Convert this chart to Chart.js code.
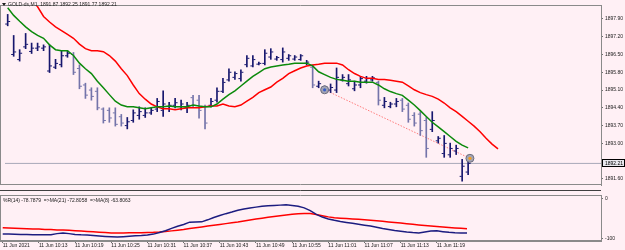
<!DOCTYPE html>
<html><head><meta charset="utf-8">
<script src="https://cdn.jsdelivr.net/npm/chart.js@4"></script>
<style>
html,body{margin:0;padding:0;background:#fff0f5;width:625px;height:250px;overflow:hidden;}
#main{position:absolute;left:0;top:0;}
#ind{position:absolute;left:0;top:190px;}
</style></head><body>
<canvas id="main" width="625" height="190"></canvas>
<canvas id="ind" width="625" height="60"></canvas>
<script>
// ---------- data ----------
const symbol = 'GOLD-ds,M1';
const opens = [1897.70,1896.50,1896.30,1896.80,1896.62,1896.75,1896.75,1895.85,1896.00,1896.10,
1896.45,1896.50,1895.95,1895.30,1895.10,1895.05,1894.35,1894.30,1894.20,1894.05,
1893.70,1893.90,1894.10,1894.10,1894.20,1894.35,1894.30,1894.45,1894.50,1894.45,
1894.40,1894.80,1894.70,1894.45,1894.50,1894.70,1895.05,1895.50,1895.60,1895.55,
1896.10,1896.05,1896.12,1896.15,1896.40,1896.32,1896.30,1896.35,1896.32,1896.30,
1896.15,1896.00,1895.25,1895.05,1895.10,1895.10,1895.50,1895.35,1895.15,1895.30,
1895.45,1895.50,1895.40,1894.50,1894.45,1894.55,1894.70,1894.50,1894.10,1894.15,
1893.90,1893.55,1893.10,1892.60,1892.55,1892.70,1891.70,1891.87];
const highs = [1898.08,1897.25,1896.69,1897.33,1896.95,1896.95,1896.88,1896.88,1896.31,1896.65,
1896.65,1896.58,1896.09,1895.37,1895.19,1895.19,1894.40,1894.40,1894.40,1894.14,
1894.02,1894.32,1894.44,1894.40,1894.40,1894.77,1895.07,1894.62,1894.77,1894.70,
1894.62,1894.89,1894.89,1894.51,1894.77,1895.19,1895.56,1895.94,1895.82,1895.90,
1896.46,1896.46,1896.20,1896.69,1896.73,1896.43,1896.76,1896.50,1896.46,1896.50,
1896.27,1896.09,1895.45,1895.26,1895.34,1895.97,1895.71,1895.71,1895.45,1895.64,
1895.64,1895.64,1895.45,1894.81,1894.62,1894.77,1894.77,1894.59,1894.21,1894.25,
1894.02,1894.25,1893.27,1893.31,1893.01,1892.93,1892.37,1892.25];
const lows = [1897.63,1896.43,1896.24,1896.73,1896.54,1896.65,1896.65,1895.79,1895.94,1896.01,
1896.39,1895.71,1895.15,1894.77,1894.70,1894.32,1893.80,1893.83,1893.68,1893.68,
1893.57,1893.83,1893.95,1894.02,1894.14,1894.25,1894.06,1894.25,1894.40,1894.32,
1894.21,1894.44,1893.99,1893.57,1894.44,1894.62,1895.00,1895.45,1895.52,1895.45,
1896.01,1896.01,1896.09,1896.09,1896.31,1896.27,1896.20,1896.27,1896.27,1896.27,
1896.09,1895.19,1895.19,1895.00,1895.00,1895.00,1895.45,1895.26,1895.07,1895.19,
1895.37,1895.45,1894.51,1894.40,1894.40,1894.44,1894.25,1893.83,1893.68,1893.31,
1892.45,1893.46,1893.01,1892.45,1892.45,1892.56,1891.51,1891.77];
const closes = [1897.80,1896.60,1896.55,1896.90,1896.75,1896.80,1896.80,1896.05,1896.15,1896.45,
1896.55,1895.80,1895.25,1894.90,1894.85,1894.40,1893.90,1894.00,1893.75,1893.80,
1893.85,1894.20,1894.25,1894.20,1894.30,1894.65,1894.55,1894.50,1894.60,1894.55,
1894.50,1894.50,1894.30,1893.80,1894.65,1895.05,1895.40,1895.80,1895.75,1895.80,
1896.35,1896.30,1896.15,1896.55,1896.60,1896.38,1896.60,1896.45,1896.40,1896.45,
1896.20,1895.30,1895.35,1895.15,1895.20,1895.60,1895.60,1895.50,1895.30,1895.55,
1895.55,1895.58,1894.70,1894.65,1894.55,1894.65,1894.35,1893.95,1893.80,1893.50,
1892.80,1893.90,1893.20,1893.00,1892.80,1892.80,1892.10,1892.21];
// fast MA (green)
const maFast = [1898.34,1898.04,1897.81,1897.59,1897.40,1897.25,1897.14,1896.88,1896.69,1896.65,
1896.65,1896.46,1896.16,1895.94,1895.75,1895.45,1895.19,1894.92,1894.66,1894.51,
1894.44,1894.44,1894.40,1894.36,1894.40,1894.44,1894.44,1894.47,1894.44,1894.44,
1894.44,1894.51,1894.47,1894.44,1894.44,1894.55,1894.74,1894.92,1895.07,1895.26,
1895.45,1895.64,1895.79,1895.94,1896.01,1896.05,1896.09,1896.12,1896.16,1896.16,
1896.16,1896.05,1895.82,1895.71,1895.60,1895.52,1895.49,1895.45,1895.45,1895.41,
1895.41,1895.41,1895.30,1895.15,1895.04,1894.96,1894.89,1894.70,1894.51,1894.29,
1894.06,1893.83,1893.65,1893.46,1893.27,1893.08,1892.93,1892.82];
// slow MA (red), shifted 5 bars forward
const maSlow = [1899.73,1899.47,1899.20,1898.94,1898.68,1898.38,1898.00,1897.78,1897.59,1897.44,
1897.29,1897.14,1896.91,1896.73,1896.65,1896.65,1896.61,1896.46,1896.24,1895.94,
1895.67,1895.30,1894.96,1894.74,1894.55,1894.44,1894.36,1894.36,1894.32,1894.36,
1894.40,1894.40,1894.40,1894.44,1894.47,1894.47,1894.55,1894.47,1894.44,1894.51,
1894.66,1894.81,1895.00,1895.11,1895.22,1895.41,1895.56,1895.75,1895.86,1895.97,
1896.05,1896.09,1896.12,1896.16,1896.16,1896.16,1896.09,1895.90,1895.75,1895.64,
1895.56,1895.56,1895.52,1895.52,1895.49,1895.45,1895.41,1895.26,1895.11,1895.00,
1894.92,1894.85,1894.74,1894.59,1894.40,1894.25,1894.06,1893.87,1893.68,1893.46,
1893.20,1892.97,1892.78];
// indicator lines
const wprBlue = [-88.4,-88.9,-89.4,-89.6,-90.1,-90.3,-90.5,-90.7,-90.5,-87.7,
-86.1,-87.7,-89.6,-90.7,-91.4,-92.4,-93.5,-94.7,-95.6,-96.3,
-95.4,-94.2,-93.1,-92.4,-91.2,-88.9,-85.0,-80.4,-74.6,-69.3,
-64.7,-58.9,-58.4,-58.2,-53.1,-47.3,-42.3,-37.6,-33.5,-28.9,
-25.9,-23.6,-21.2,-18.9,-17.8,-16.9,-16.2,-15.5,-16.9,-19.2,
-23.1,-30.0,-39.3,-46.2,-50.8,-54.3,-57.3,-59.6,-61.9,-64.2,
-66.5,-68.8,-71.6,-75.0,-77.4,-79.7,-81.5,-83.6,-85.0,-85.9,
-83.6,-81.3,-80.8,-82.7,-84.5,-85.4,-85.9,-86.1];
const wprRed = [-73.2,-73.7,-74.3,-74.8,-75.5,-76.0,-76.4,-77.1,-77.6,-78.3,
-78.7,-79.4,-80.4,-81.3,-82.2,-83.1,-84.0,-85.0,-85.9,-86.1,
-85.9,-85.7,-85.4,-85.2,-85.0,-84.5,-83.6,-82.2,-80.8,-79.2,
-77.4,-75.0,-73.0,-70.9,-68.8,-66.7,-64.7,-62.6,-60.5,-58.4,
-55.9,-53.6,-51.3,-49.0,-46.6,-44.6,-42.7,-40.9,-39.3,-37.6,
-36.9,-37.4,-39.7,-42.7,-45.7,-48.1,-49.0,-50.0,-50.9,-51.9,
-53.1,-54.0,-55.4,-56.8,-58.4,-59.8,-61.2,-62.8,-64.2,-65.8,
-67.2,-68.6,-70.0,-71.1,-72.3,-73.4,-74.3,-75.5];
const indicatorLabel = '%R(14) -78.7879  =>MA(21) -72.8058  =>MA(8) -63.8063';
const trendLine = [[53, 1895.11], [77.3, 1892.41]];
const bidPrice = 1892.21;
const priceTicks = [1897.90, 1897.20, 1896.50, 1895.80, 1895.10, 1894.40, 1893.70, 1893.00, 1891.60];
const indTicks = [0, -100];
const timeIdx = [0, 6, 12, 18, 24, 30, 36, 42, 48, 54, 60, 66, 72];
const timeLabels = ['11 Jun 2021','11 Jun 10:13','11 Jun 10:19','11 Jun 10:25','11 Jun 10:31','11 Jun 10:37',
'11 Jun 10:43','11 Jun 10:49','11 Jun 10:55','11 Jun 11:01','11 Jun 11:07','11 Jun 11:13','11 Jun 11:19'];

// ---------- styling ----------
const X_MIN = -0.45, X_MAX = 99.22;
const Y_MIN = 1891.36, Y_MAX = 1898.45;
const UP = '#17176e', DOWN = '#7474aa';
const FONT = "'Liberation Sans', Arial, sans-serif";
Chart.defaults.font.family = FONT;
Chart.defaults.font.size = 5;
Chart.defaults.color = '#000';

const barColor = closes.map((c, i) => c >= opens[i] ? UP : DOWN);
const xy = (arr) => arr.map((v, i) => ({x: i, y: v}));

const frame = {
  id: 'frame',
  afterDraw(chart, args, opts) {
    const a = chart.chartArea, ctx = chart.ctx;
    ctx.save();
    ctx.strokeStyle = opts.color || '#8a8a8a';
    ctx.lineWidth = 1;
    ctx.beginPath();
    ctx.moveTo(0.5, a.top); ctx.lineTo(0.5, a.bottom);
    ctx.moveTo(0, a.top + 0.5); ctx.lineTo(a.right, a.top + 0.5);
    ctx.moveTo(0, a.bottom - 0.5); ctx.lineTo(a.right, a.bottom - 0.5);
    ctx.stroke();
    ctx.restore();
  }
};

const mainLabels = {
  id: 'mainLabels',
  afterDraw(chart) {
    const ctx = chart.ctx, ys = chart.scales.y, a = chart.chartArea;
    ctx.save();
    // title
    ctx.fillStyle = '#202020';
    ctx.beginPath(); ctx.moveTo(2, 3); ctx.lineTo(6, 3); ctx.lineTo(4, 6); ctx.closePath(); ctx.fill();
    ctx.font = '5px ' + FONT;
    ctx.textBaseline = 'middle';
    const n = closes.length - 1;
    ctx.fillText(symbol + '  ' + opens[n].toFixed(2) + ' ' + highs[n].toFixed(2) + ' ' + lows[n].toFixed(2) + ' ' + closes[n].toFixed(2), 8, 5);
    // bid label on axis
    const y = Math.round(ys.getPixelForValue(bidPrice));
    ctx.fillStyle = '#e8e8ee';
    ctx.fillRect(a.right + 1, y - 4, 23, 8);
    ctx.strokeStyle = '#000';
    ctx.strokeRect(a.right + 1.5, y - 3.5, 22, 7);
    ctx.fillStyle = '#000';
    ctx.fillText(bidPrice.toFixed(2), a.right + 4, y + 0.5);
    ctx.restore();
  }
};

new Chart(document.getElementById('main'), {
  type: 'line',
  data: {
    datasets: [
      { type: 'line', data: trendLine.map(p => ({x: p[0], y: p[1]})), showLine: false,
        pointRadius: 1.6, pointBorderWidth: 0, pointBackgroundColor: ['#3a5fc8', '#f2a020'], order: 0 },
      { type: 'line', data: trendLine.map(p => ({x: p[0], y: p[1]})), showLine: false,
        pointRadius: 4, pointBorderWidth: 1, pointBackgroundColor: '#a4a4b4', pointBorderColor: '#6c6c7c', order: 1 },
      { type: 'line', data: xy(maFast), borderColor: '#0c8a0c', borderWidth: 1.5, pointRadius: 0, tension: 0, order: 2 },
      { type: 'line', data: xy(maSlow), borderColor: '#ff0000', borderWidth: 1.5, pointRadius: 0, tension: 0, order: 3 },
      { type: 'line', data: xy(opens).map(p => ({x: p.x - 0.25, y: p.y})), showLine: false, pointStyle: 'line',
        pointRadius: 1, pointBorderWidth: 1, pointBorderColor: barColor, order: 4 },
      { type: 'line', data: xy(closes).map(p => ({x: p.x + 0.25, y: p.y})), showLine: false, pointStyle: 'line',
        pointRadius: 1, pointBorderWidth: 1, pointBorderColor: barColor, order: 4 },
      { type: 'bar', data: highs.map((h, i) => ({x: i, y: [lows[i], h]})), backgroundColor: barColor,
        barThickness: 1, borderWidth: 0, grouped: false, order: 5 },
      { type: 'line', data: trendLine.map(p => ({x: p[0], y: p[1]})), borderColor: '#ff7c7c', borderWidth: 1,
        borderDash: [1.5, 1.5], pointRadius: 0, order: 6 },
      { type: 'line', data: [{x: X_MIN, y: bidPrice}, {x: X_MAX, y: bidPrice}], borderColor: '#a9a9b9',
        borderWidth: 1, pointRadius: 0, order: 7 }
    ]
  },
  options: {
    responsive: false, animation: false, events: [],
    layout: {padding: {left: 0, right: 0, top: 0, bottom: 1}},
    plugins: {legend: {display: false}, tooltip: {enabled: false}, frame: {color: '#8a8a8a'}},
    scales: {
      x: {type: 'linear', min: X_MIN, max: X_MAX, display: false, offset: false},
      y: {position: 'right', min: Y_MIN, max: Y_MAX,
          afterFit(s) { s.width = 24; },
          afterBuildTicks(s) { s.ticks = priceTicks.map(v => ({value: v})); },
          grid: {drawOnChartArea: false, tickLength: 2, color: '#707070'},
          border: {display: true, color: '#8a8a8a'},
          ticks: {autoSkip: false, padding: 2, color: '#202020', font: {size: 5}, callback: v => Number(v).toFixed(2)}}
    }
  },
  plugins: [frame, mainLabels]
});

const indLabel = {
  id: 'indLabel',
  afterDraw(chart) {
    const ctx = chart.ctx, a = chart.chartArea;
    ctx.save();
    ctx.fillStyle = '#202020';
    ctx.font = '5px ' + FONT;
    ctx.textBaseline = 'middle';
    ctx.fillText(indicatorLabel, 3, a.top + 5.5);
    ctx.strokeStyle = '#404040';
    ctx.beginPath(); ctx.moveTo(0, 0.5); ctx.lineTo(a.right, 0.5); ctx.stroke();
    ctx.restore();
  }
};

new Chart(document.getElementById('ind'), {
  type: 'line',
  data: {
    datasets: [
      { data: xy(wprBlue), borderColor: '#1c1c80', borderWidth: 1.5, pointRadius: 0, tension: 0 },
      { data: xy(wprRed), borderColor: '#ff0000', borderWidth: 1.5, pointRadius: 0, tension: 0 }
    ]
  },
  options: {
    responsive: false, animation: false, events: [],
    layout: {padding: {left: 0, right: 0, top: 1, bottom: 0}},
    plugins: {legend: {display: false}, tooltip: {enabled: false}, frame: {color: '#8a8a8a'}},
    scales: {
      x: {type: 'linear', min: X_MIN, max: X_MAX, offset: false, position: 'bottom',
          afterFit(s) { s.height = 9; },
          afterBuildTicks(s) { s.ticks = timeIdx.map(v => ({value: v})); },
          grid: {drawOnChartArea: false, tickLength: 2, color: '#707070'},
          border: {display: true, color: '#8a8a8a'},
          ticks: {autoSkip: false, maxRotation: 0, minRotation: 0, align: 'start', padding: 0,
                  color: '#202020', font: {size: 5}, callback: (v, i) => timeLabels[i]}},
      y: {position: 'right', min: -106.2, max: 9.2,
          afterFit(s) { s.width = 24; },
          afterBuildTicks(s) { s.ticks = indTicks.map(v => ({value: v})); },
          grid: {drawOnChartArea: false, tickLength: 2, color: '#707070'},
          border: {display: true, color: '#8a8a8a'},
          ticks: {autoSkip: false, padding: 2, color: '#202020', font: {size: 5}}}
    }
  },
  plugins: [frame, indLabel]
});
</script></body></html>
